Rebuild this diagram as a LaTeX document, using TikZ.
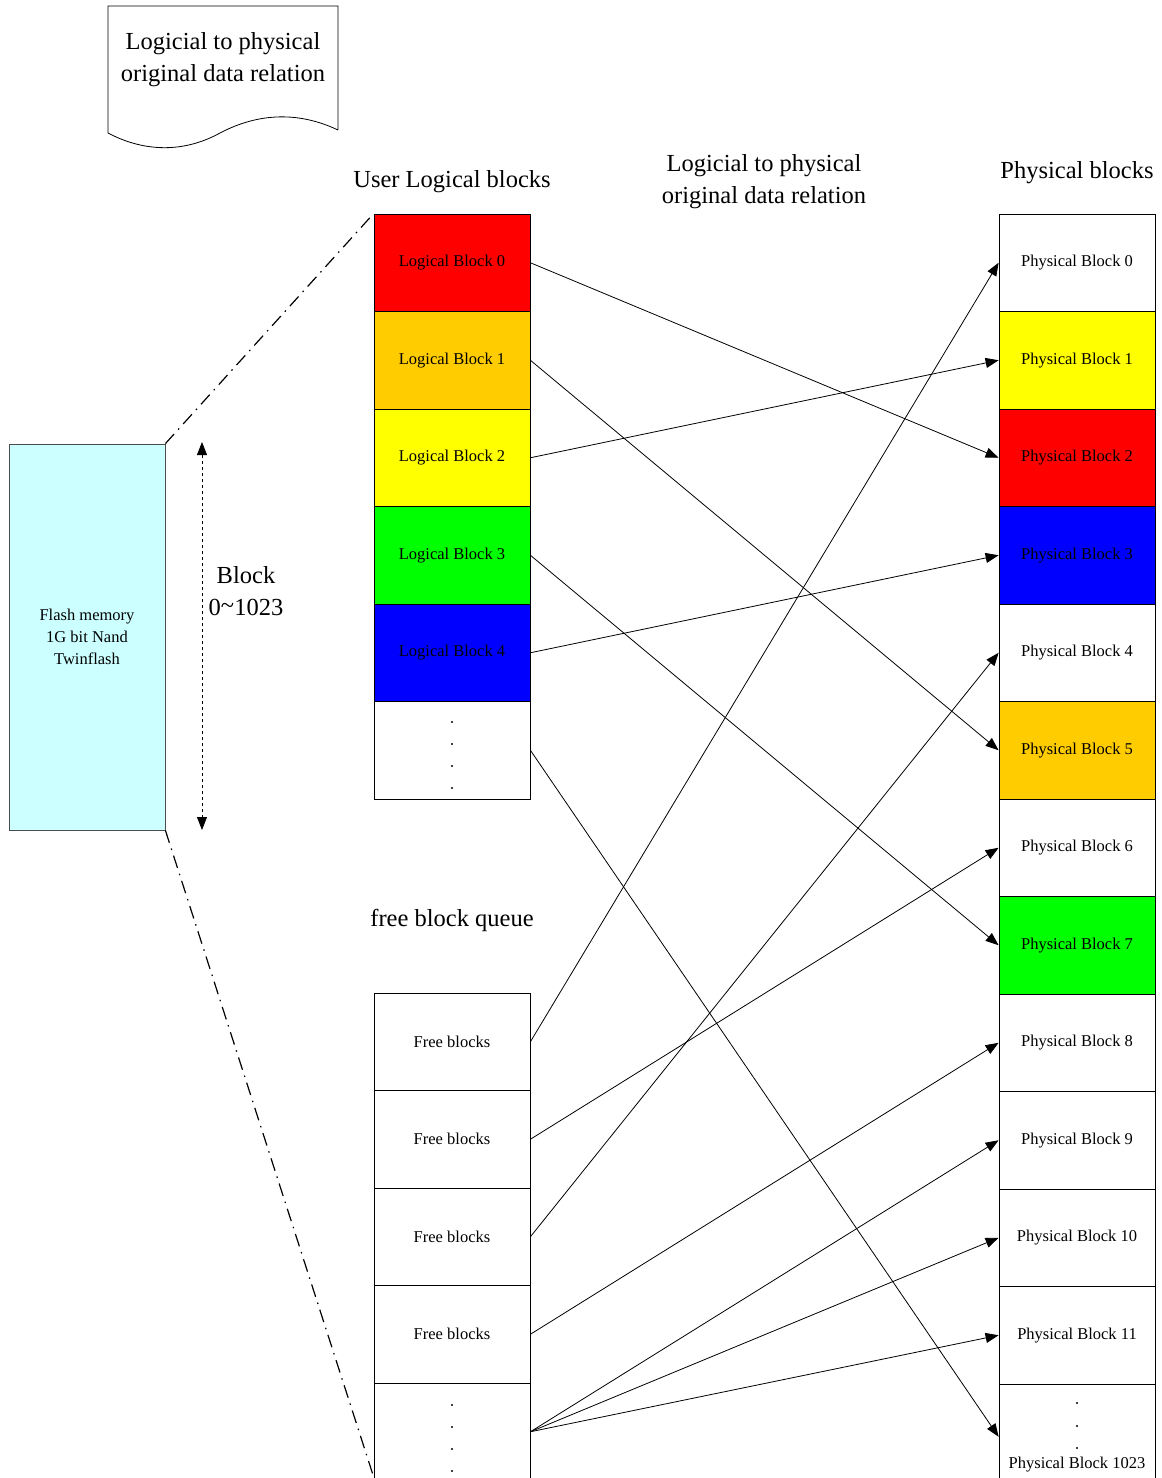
\documentclass[tikz,border=0pt]{standalone}
\usepackage{fontspec}
\setmainfont{Liberation Serif}
\usetikzlibrary{arrows.meta}
\definecolor{cyanfill}{HTML}{CCFFFF}
\definecolor{orangeblk}{HTML}{FFCC00}
\definecolor{greenblk}{HTML}{00FF00}
\definecolor{blueblk}{HTML}{0000FF}
\definecolor{redblk}{HTML}{FF0000}
\definecolor{yellowblk}{HTML}{FFFF00}
\begin{document}
\begin{tikzpicture}[x=1pt,y=-1pt,
  blk/.style={draw=black,line width=0.8pt,rectangle,minimum width=156pt,minimum height=97.5pt,inner sep=0pt,
    font=\fontsize{16.5}{20}\selectfont},
  big/.style={font=\fontsize{24.5}{32}\selectfont,align=center,inner sep=0pt},
  tip/.tip={Triangle[length=13pt,width=10pt]},
  conn/.style={line width=0.8pt,-tip},
  dd/.style={line width=1.2pt,dash pattern=on 13pt off 6pt on 1.5pt off 6pt},
  dotm/.style={circle,fill=black,inner sep=0pt,minimum size=2.2pt}]
\useasboundingbox (0,0) rectangle (1162,1478);
\fill[white] (0,0) rectangle (1162,1478);

% document shape
\draw[line width=0.8pt] (338,130) -- (338,6) -- (108,6) -- (108,133)
  .. controls (140,150) and (180,155) .. (220,133)
  .. controls (260,112) and (300,112) .. (338,130);
\node[big] (doc) at (223,60) {Logicial to physical\\original data relation};

% flash memory
\node[draw=black!70,line width=0.8pt,fill=cyanfill,minimum width=156pt,minimum height=386pt,inner sep=0pt,
  align=center,font=\fontsize{16.5}{22}\selectfont] (flash) at (87,637) {Flash memory\\1G bit Nand\\Twinflash};

\coordinate (ba) at (202,442);
\coordinate (bb) at (202,830);
\draw[dashed,line width=0.8pt,tip-tip] (ba) -- (bb);
\node[big] (blocklbl) at (246,591) {Block\\0\raisebox{0.15ex}{\textasciitilde}1023};

% headers
\node[big] (hl) at (452,182) {User Logical blocks};
\node[big] (hm) at (764,182) {Logicial to physical\\original data relation};
\node[big] (hp) at (1077,173) {Physical blocks};
\node[big] (hf) at (452,920) {free block queue};

% logical blocks
\node[blk,fill=redblk]    (L0) at (452,262.75) {Logical Block 0};
\node[blk,fill=orangeblk] (L1) at (452,360.25) {Logical Block 1};
\node[blk,fill=yellowblk] (L2) at (452,457.75) {Logical Block 2};
\node[blk,fill=greenblk]  (L3) at (452,555.25) {Logical Block 3};
\node[blk,fill=blueblk]   (L4) at (452,652.75) {Logical Block 4};
\node[blk,fill=white]     (L5) at (452,750.25) {};
\foreach \yy [count=\i] in {722,744,766,788} \node[dotm] (ld\i) at (452,\yy) {};

% free blocks
\node[blk] (F1) at (452,1041.75) {Free blocks};
\node[blk] (F2) at (452,1139.25) {Free blocks};
\node[blk] (F3) at (452,1236.75) {Free blocks};
\node[blk] (F4) at (452,1334.25) {Free blocks};
\node[blk] (F5) at (452,1431.75) {};
\foreach \yy [count=\i] in {1405,1427,1449,1471} \node[dotm] (fd\i) at (452,\yy) {};

% physical blocks
\node[blk,fill=white]     (P0) at (1077,262.75) {Physical Block 0};
\node[blk,fill=yellowblk] (P1) at (1077,360.25) {Physical Block 1};
\node[blk,fill=redblk]    (P2) at (1077,457.75) {Physical Block 2};
\node[blk,fill=blueblk]   (P3) at (1077,555.25) {Physical Block 3};
\node[blk,fill=white]     (P4) at (1077,652.75) {Physical Block 4};
\node[blk,fill=orangeblk] (P5) at (1077,750.25) {Physical Block 5};
\node[blk,fill=white]     (P6) at (1077,847.75) {Physical Block 6};
\node[blk,fill=greenblk]  (P7) at (1077,945.25) {Physical Block 7};
\node[blk,fill=white]     (P8) at (1077,1042.75) {Physical Block 8};
\node[blk,fill=white]     (P9) at (1077,1140.25) {Physical Block 9};
\node[blk,fill=white]     (P10) at (1077,1237.75) {Physical Block 10};
\node[blk,fill=white]     (P11) at (1077,1335.25) {Physical Block 11};
\node[blk,fill=white]     (P12) at (1077,1432.75) {};
\foreach \yy [count=\i] in {1403,1426,1448} \node[dotm] (pd\i) at (1077,\yy) {};
\node[font=\fontsize{16.5}{20}\selectfont,inner sep=0pt] (P1023) at (1077,1465) {Physical Block 1023};

% dash-dot lines
\coordinate (bot) at (374,1478);
\draw[dd] (flash.north east) -- (L0.north west);
\draw[dd] (flash.south east) -- (bot);

% mapping arrows
\draw[conn] (L0.east) -- (P2.west);
\draw[conn] (L1.east) -- (P5.west);
\draw[conn] (L2.east) -- (P1.west);
\draw[conn] (L3.east) -- (P7.west);
\draw[conn] (L4.east) -- (P3.west);
\draw[conn] (L5.east) -- ([yshift=-4pt]P12.west);
\draw[conn] (F1.east) -- (P0.west);
\draw[conn] (F2.east) -- (P6.west);
\draw[conn] (F3.east) -- (P4.west);
\draw[conn] (F4.east) -- (P8.west);
\draw[conn] (F5.east) -- (P9.west);
\draw[conn] (F5.east) -- (P10.west);
\draw[conn] (F5.east) -- (P11.west);
\end{tikzpicture}
\end{document}
